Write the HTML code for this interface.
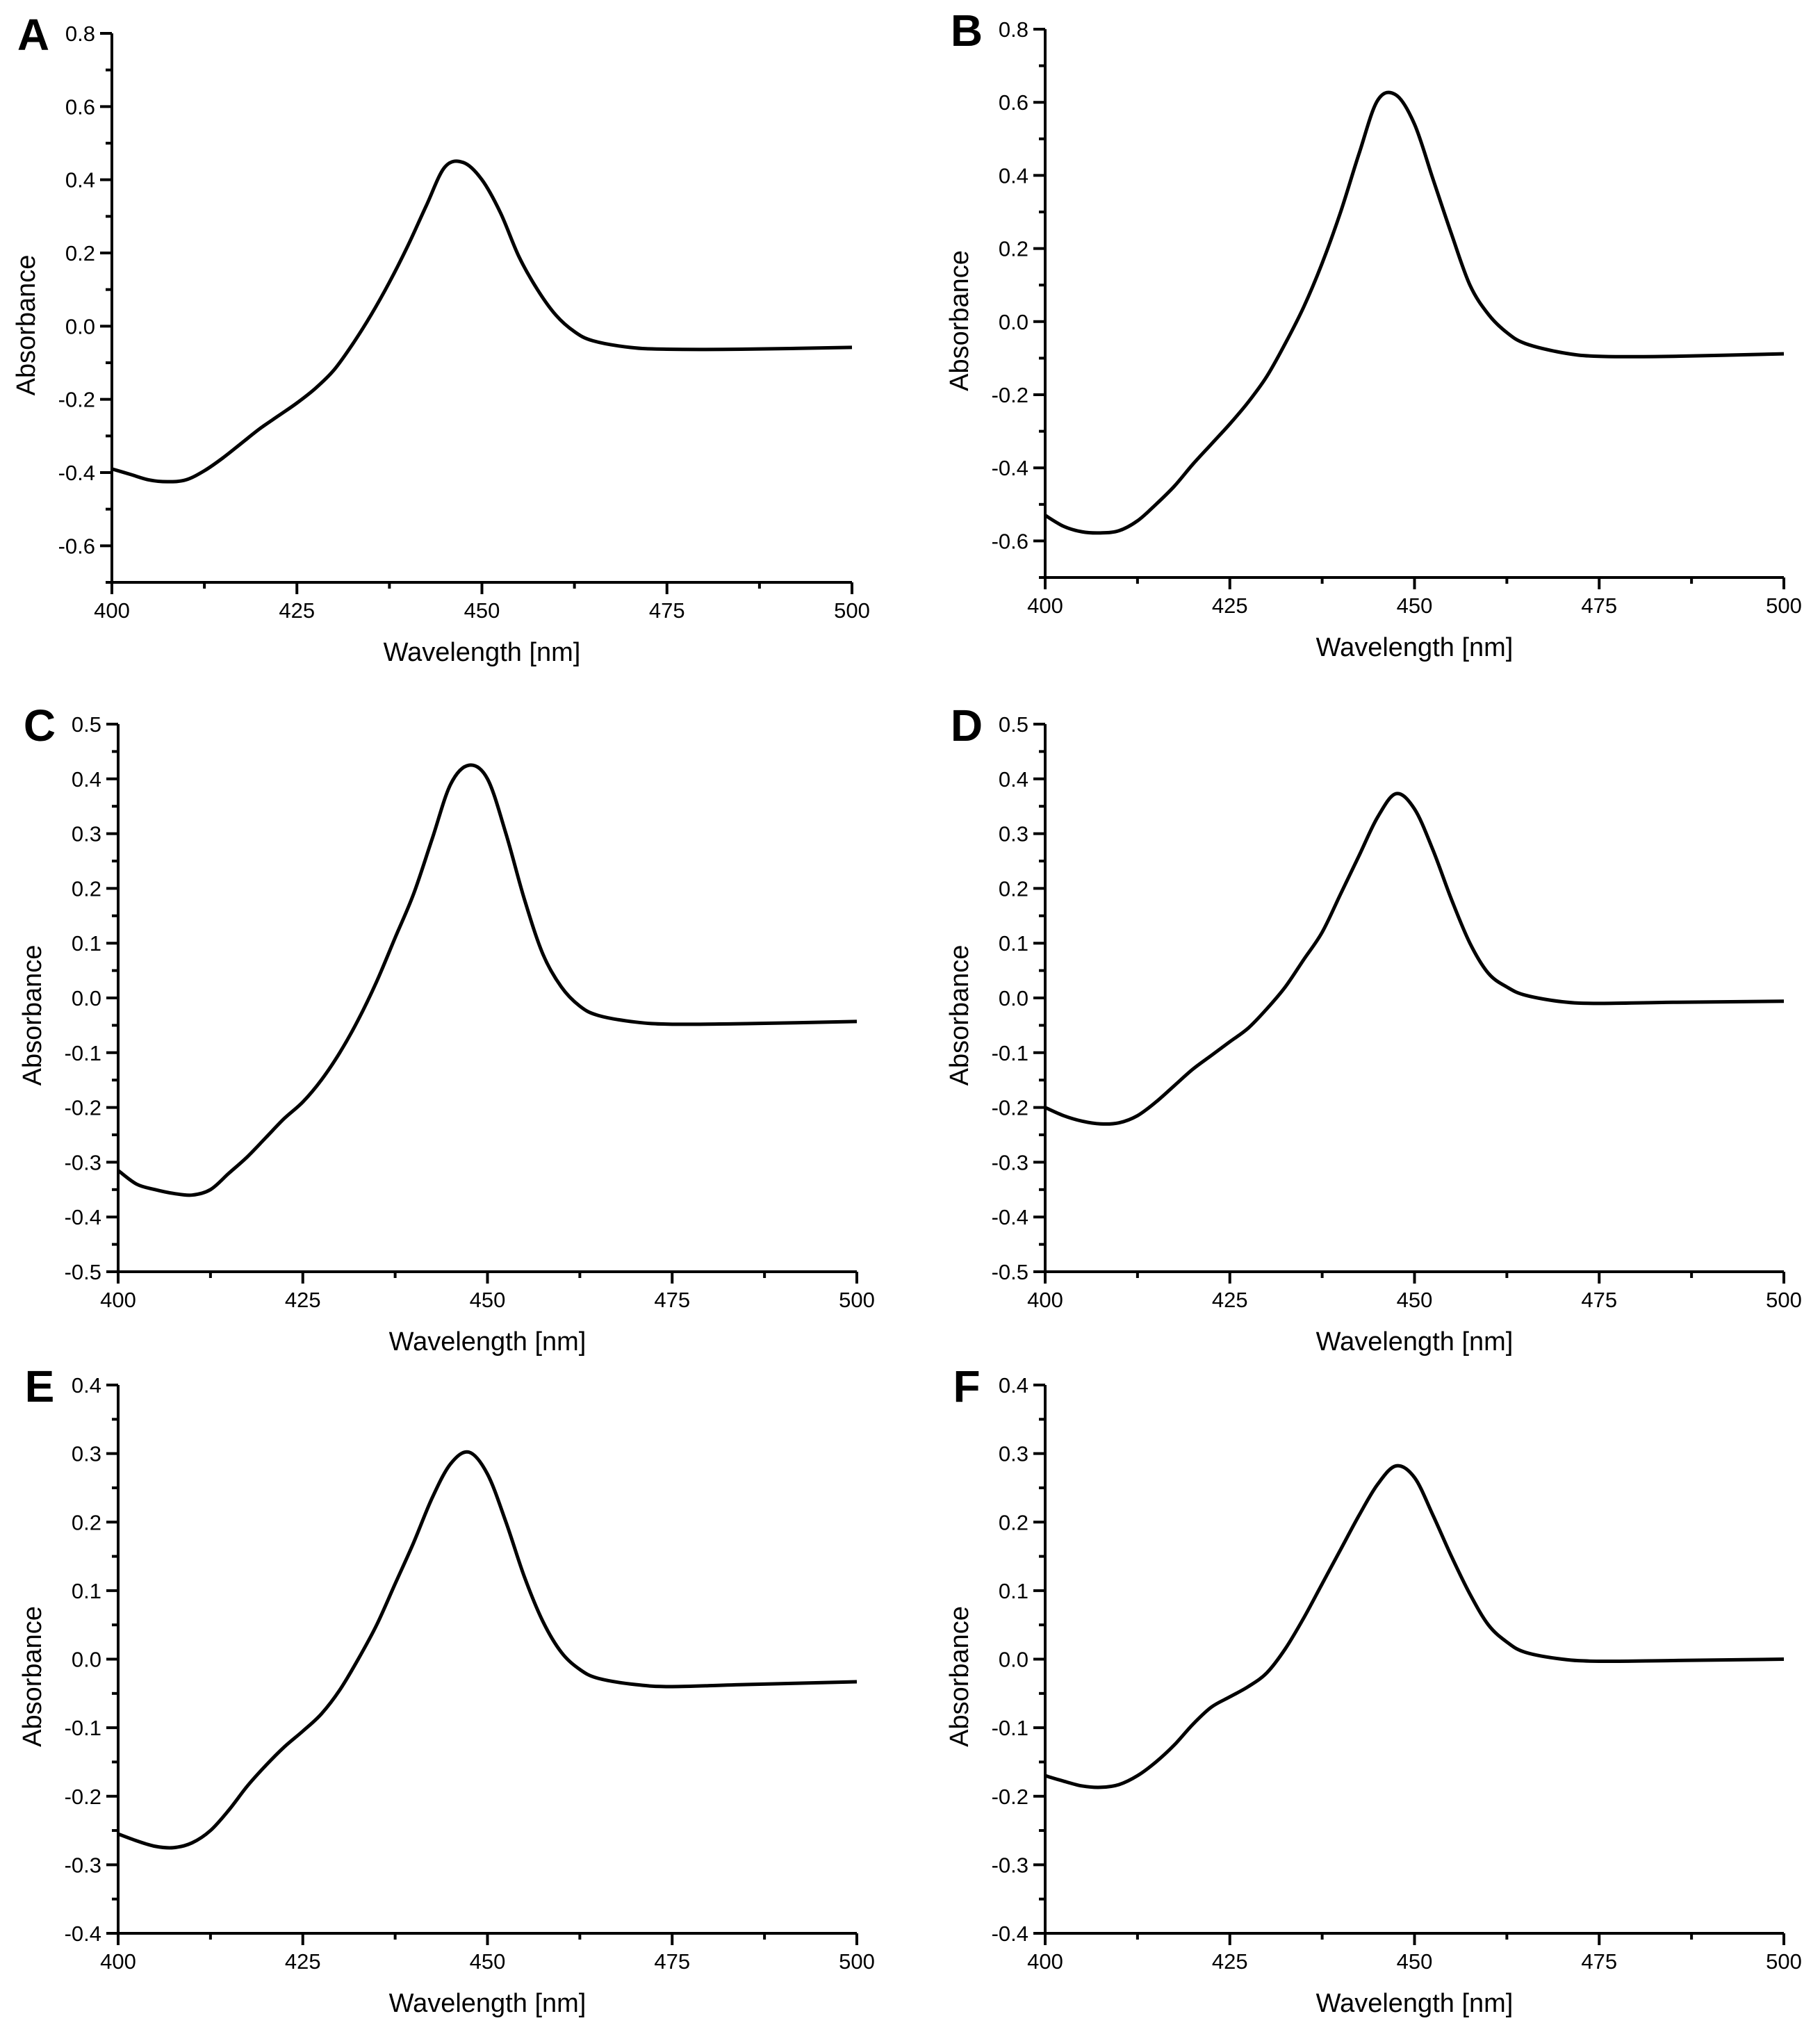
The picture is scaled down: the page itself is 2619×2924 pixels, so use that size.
<!DOCTYPE html>
<html><head><meta charset="utf-8"><style>
html,body{margin:0;padding:0;background:#fff;}
svg{display:block;font-family:"Liberation Sans",Arial,sans-serif;}
</style></head><body>
<svg id="fig" width="2619" height="2924" viewBox="0 0 2619 2924" xmlns="http://www.w3.org/2000/svg"></svg>
<script>
const wl=[400,402.5,405,407.5,410,412.5,415,417.5,420,422.5,425,427.5,430,432.5,435,437.5,440,442.5,445,447.5,450,452.5,455,457.5,460,462.5,465,470,475,485,500];
const absA=[-0.39,-0.405,-0.42,-0.425,-0.42,-0.395,-0.36,-0.32,-0.28,-0.245,-0.21,-0.17,-0.12,-0.05,0.03,0.12,0.22,0.33,0.435,0.447,0.40,0.31,0.19,0.10,0.03,-0.015,-0.04,-0.058,-0.063,-0.063,-0.058];
const absB=[-0.53,-0.56,-0.575,-0.578,-0.572,-0.545,-0.5,-0.45,-0.39,-0.335,-0.28,-0.22,-0.15,-0.06,0.04,0.16,0.3,0.46,0.605,0.62,0.54,0.39,0.24,0.1,0.02,-0.03,-0.06,-0.085,-0.095,-0.095,-0.088];
const absC=[-0.315,-0.34,-0.35,-0.357,-0.36,-0.35,-0.32,-0.29,-0.255,-0.22,-0.19,-0.15,-0.1,-0.04,0.03,0.11,0.19,0.29,0.39,0.425,0.40,0.30,0.18,0.08,0.02,-0.015,-0.032,-0.044,-0.048,-0.047,-0.043];
const absD=[-0.2,-0.215,-0.225,-0.23,-0.228,-0.215,-0.19,-0.16,-0.13,-0.105,-0.08,-0.055,-0.02,0.02,0.07,0.12,0.19,0.26,0.33,0.373,0.345,0.27,0.18,0.1,0.045,0.02,0.005,-0.007,-0.01,-0.008,-0.006];
const absE=[-0.255,-0.265,-0.273,-0.275,-0.268,-0.25,-0.22,-0.185,-0.155,-0.128,-0.105,-0.08,-0.045,0.0,0.05,0.11,0.17,0.235,0.285,0.302,0.27,0.2,0.12,0.055,0.01,-0.015,-0.028,-0.037,-0.04,-0.037,-0.033];
const absF=[-0.17,-0.178,-0.185,-0.187,-0.183,-0.17,-0.15,-0.125,-0.095,-0.07,-0.055,-0.04,-0.02,0.015,0.06,0.11,0.16,0.21,0.255,0.282,0.265,0.21,0.15,0.095,0.05,0.025,0.01,0.0,-0.003,-0.002,0.0];
const xTicks=[400,425,450,475,500];
const yTicksA=[-0.6,-0.4,-0.2,0.0,0.2,0.4,0.6,0.8];
const yTicksC=[-0.5,-0.4,-0.3,-0.2,-0.1,0.0,0.1,0.2,0.3,0.4,0.5];
const yTicksE=[-0.4,-0.3,-0.2,-0.1,0.0,0.1,0.2,0.3,0.4];

const NS="http://www.w3.org/2000/svg";
const svg=document.getElementById('fig');
function mk(tag,attrs,parent){const e=document.createElementNS(NS,tag);for(const k in attrs)e.setAttribute(k,attrs[k]);(parent||svg).appendChild(e);return e;}

const panels=[
 {id:'a',L:'A',ab:absA,x0:161,x1:1226,yTop:48,yBot:838,ymin:-0.7,ymax:0.8,ticks:yTicksA,minorStep:0.1},
 {id:'b',L:'B',ab:absB,x0:1504,x1:2567,yTop:42,yBot:831,ymin:-0.7,ymax:0.8,ticks:yTicksA,minorStep:0.1},
 {id:'c',L:'C',ab:absC,x0:170,x1:1233,yTop:1042,yBot:1830,ymin:-0.5,ymax:0.5,ticks:yTicksC,minorStep:0.05},
 {id:'d',L:'D',ab:absD,x0:1504,x1:2567,yTop:1042,yBot:1830,ymin:-0.5,ymax:0.5,ticks:yTicksC,minorStep:0.05},
 {id:'e',L:'E',ab:absE,x0:170,x1:1233,yTop:1993,yBot:2782,ymin:-0.4,ymax:0.4,ticks:yTicksE,minorStep:0.05},
 {id:'f',L:'F',ab:absF,x0:1504,x1:2567,yTop:1993,yBot:2782,ymin:-0.4,ymax:0.4,ticks:yTicksE,minorStep:0.05}
];

panels.forEach(p=>{
 const g=mk('g',{});
 
 
 const xs=v=>p.x0+(v-400)/100*(p.x1-p.x0);
 const ys=v=>p.yBot-(v-p.ymin)/(p.ymax-p.ymin)*(p.yBot-p.yTop);
 const ax=mk('path',{d:`M${p.x0},${p.yTop} V${p.yBot} H${p.x1}`,fill:'none',stroke:'#000','stroke-width':4},g);
 
 
 const nMinor=Math.round((p.ymax-p.ymin)/p.minorStep);
 for(let i=0;i<=nMinor;i++){
  const v=p.ymin+i*p.minorStep;
  const major=p.ticks.some(t=>Math.abs(t-v)<1e-6);
  const tk=mk('line',{x1:p.x0-(major?17:9),x2:p.x0,y1:ys(v),y2:ys(v),stroke:'#000','stroke-width':4},g);
  
  
 }
 p.ticks.forEach(t=>{
  const tx=mk('text',{x:p.x0-24,y:ys(t)+11,'text-anchor':'end','font-size':31},g);
  tx.textContent=t.toFixed(1);
  
  
 });
 for(let v=400;v<=500.01;v+=12.5){
  const major=xTicks.some(t=>Math.abs(t-v)<1e-6);
  const tk=mk('line',{x1:xs(v),x2:xs(v),y1:p.yBot,y2:p.yBot+(major?17:9),stroke:'#000','stroke-width':4},g);
  
  
 }
 xTicks.forEach(t=>{
  const tx=mk('text',{x:xs(t),y:p.yBot+51,'text-anchor':'middle','font-size':31},g);
  tx.textContent=t;
  
  
 });
 const xt=mk('text',{x:(p.x0+p.x1)/2,y:p.yBot+113,'text-anchor':'middle','font-size':38},g);
 xt.textContent='Wavelength [nm]';
 
 
 const cy=(p.yTop+p.yBot)/2+25, cx=p.x0-124;
 const yt=mk('text',{x:cx,y:cy+13,'text-anchor':'middle','font-size':38,transform:`rotate(-90 ${cx} ${cy})`},g);
 yt.textContent='Absorbance';
 
 
 const lt=mk('text',{x:p.x0-113,y:p.yTop+24,'text-anchor':'middle','font-size':64,'font-weight':'bold'},g);
 lt.textContent=p.L;
 
 
 const P=wl.map((w,i)=>[xs(w),ys(p.ab[i])]);
 let d=`M${P[0][0]},${P[0][1]}`;
 for(let i=0;i<P.length-1;i++){
  const p0=P[Math.max(0,i-1)],p1=P[i],p2=P[i+1],p3=P[Math.min(P.length-1,i+2)];
  const c1=[p1[0]+(p2[0]-p0[0])/6,p1[1]+(p2[1]-p0[1])/6];
  const c2=[p2[0]-(p3[0]-p1[0])/6,p2[1]-(p3[1]-p1[1])/6];
  d+=` C${c1[0]},${c1[1]} ${c2[0]},${c2[1]} ${p2[0]},${p2[1]}`;
 }
 const cv=mk('path',{d:d,fill:'none',stroke:'#000','stroke-width':5,'stroke-linejoin':'round'},g);
 
 
});
</script>
</body></html>
